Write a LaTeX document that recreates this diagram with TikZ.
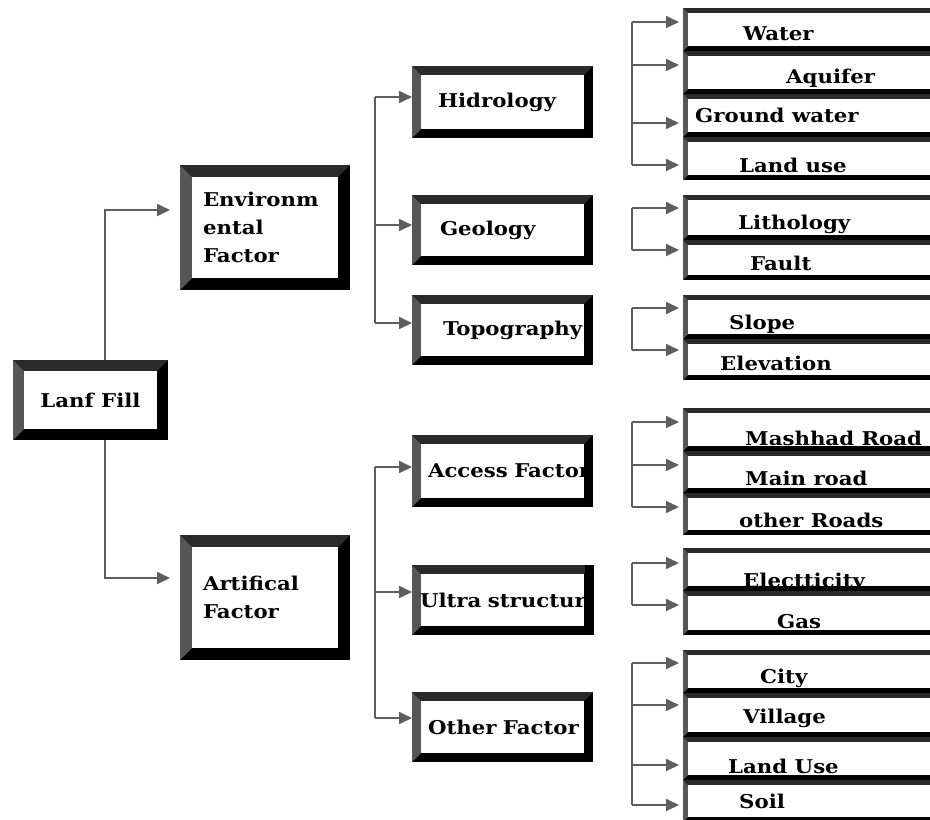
\documentclass[tikz,border=0pt]{standalone}
\usepackage{fontspec}
\setmainfont[FakeStretch=1.12]{DejaVu Serif}
\usetikzlibrary{arrows.meta}
\definecolor{topg}{HTML}{2A2A2A}
\definecolor{leftg}{HTML}{565656}
\definecolor{lineg}{HTML}{5E5E5E}
\newcommand\mytxt{\fontsize{19}{28}\selectfont\bfseries}
\tikzset{
  bevw/.initial=10,
  frame/.style={inner sep=0pt, outer sep=0pt, draw=none, font=\mytxt, align=center,
    path picture={
      \pgfmathsetmacro\bb{\pgfkeysvalueof{/tikz/bevw}}
      \coordinate (NW) at (path picture bounding box.north west);
      \coordinate (NE) at (path picture bounding box.north east);
      \coordinate (SW) at (path picture bounding box.south west);
      \fill[black] (SW) rectangle (NE);
      \fill[topg] (NW) -- (NE) -- ([shift={(-\bb pt,-\bb pt)}]NE) -- ([shift={(\bb pt,-\bb pt)}]NW) -- cycle;
      \fill[leftg] (NW) -- ([shift={(\bb pt,-\bb pt)}]NW) -- ([shift={(\bb pt,\bb pt)}]SW) -- (SW) -- cycle;
      \fill[white] ([shift={(\bb pt,\bb pt)}]SW) rectangle ([shift={(-\bb pt,-\bb pt)}]NE);
    }},
  lbl/.style={inner sep=0pt, font=\mytxt, anchor=base west},
  ln/.style={draw=lineg, line width=1.8pt},
  arr/.style={ln, -{Triangle[length=13pt,width=12pt]}},
}
% [opts]{name}{x1}{y1}{x2}{y2}{border}{text}
\newcommand\bevbox[8][]{%
  \node[frame, bevw=#7, minimum width={#5-#3}, minimum height={#6-#4}, #1] (#2) at ({(#3+#5)/2},{(#4+#6)/2}) {#8};}
% {leaf name}{bracket coordinate}{y}
\newcommand\leafarr[3]{%
  \coordinate (#1a) at (0,#3);
  \draw[arr, shorten >=4pt] (#2 |- #1a) -- (#1a -| #1.west);}
\begin{document}
\begin{tikzpicture}[x=1pt,y=-1pt]
\useasboundingbox (0,0) rectangle (930,820);
\clip (0,0) rectangle (930,820);
\fill[white] (0,0) rectangle (930,820);

% level 0 and 1
\bevbox{lanf}{13}{360}{168}{440}{11}{Lanf Fill}
\bevbox[text width=124pt, align=left]{env}{180}{165}{350}{290}{12}{Environm\\ental\\Factor}
\bevbox[text width=124pt, align=left]{art}{180}{535}{350}{660}{12}{Artifical\\Factor}

% level 2
\bevbox[text width=129pt, align=left]{hid}{412}{66}{593}{138}{9}{\mbox{Hidrology}}
\bevbox[text width=125pt, align=left]{geo}{412}{195}{593}{265}{9}{\mbox{Geology}}
\bevbox[text width=119pt, align=left]{topo}{412}{295}{593}{365}{9}{\mbox{Topography}}
\bevbox[text width=149pt, align=left]{acc}{412}{435}{593}{507}{9}{\mbox{Access Factor}}
\bevbox[text width=165pt, align=left]{ultra}{412}{565}{593}{635}{9}{\mbox{Ultra structure}}
\fill[black] ([xshift=-8pt]ultra.north east) rectangle ([xshift=30pt]ultra.south east);
\fill[white] ([xshift=0.5pt,yshift=2pt]ultra.north east) rectangle ([xshift=30pt,yshift=-2pt]ultra.south east);
\bevbox[text width=149pt, align=left]{other}{412}{692}{593}{762}{9}{\mbox{Other Factor}}

% leaves
\bevbox{water}{683}{8}{950}{51}{5}{}
\bevbox{aquifer}{683}{51}{950}{94}{5}{}
\bevbox{ground}{683}{94}{950}{137}{5}{}
\bevbox{landuse}{683}{137}{950}{180}{5}{}
\bevbox{litho}{683}{195}{950}{240}{5}{}
\bevbox{fault}{683}{240}{950}{280}{5}{}
\bevbox{slope}{683}{295}{950}{339}{5}{}
\bevbox{elev}{683}{339}{950}{380}{5}{}
\bevbox{mashhad}{683}{408}{950}{451}{5}{}
\bevbox{mainroad}{683}{451}{950}{493}{5}{}
\bevbox{others}{683}{493}{950}{535}{5}{}
\bevbox{elec}{683}{548}{950}{591}{5}{}
\bevbox{gas}{683}{591}{950}{635}{5}{}
\bevbox{city}{683}{650}{950}{693}{5}{}
\bevbox{village}{683}{693}{950}{737}{5}{}
\bevbox{landuseb}{683}{737}{950}{780}{5}{}
\bevbox{soil}{683}{780}{950}{822}{5}{}

\node[lbl] (tWater) at (743,40) {Water};
\node[lbl] (tAquifer) at (786,83) {Aquifer};
\node[lbl] (tGround) at (695,122) {Ground water};
\node[lbl] (tLanduse) at (739,172) {Land use};
\node[lbl] (tLitho) at (738,229) {Lithology};
\node[lbl] (tFault) at (750,270) {Fault};
\node[lbl] (tSlope) at (729,329) {Slope};
\node[lbl] (tElev) at (720,370) {Elevation};
\node[lbl] (tMashhad) at (745,445) {Mashhad Road};
\node[lbl] (tMain) at (745,485) {Main road};
\node[lbl] (tOthers) at (739,527) {other Roads};
\node[lbl] (tElec) at (743,587) {Electticity};
\node[lbl] (tGas) at (777,628) {Gas};
\node[lbl] (tCity) at (760,683) {City};
\node[lbl] (tVillage) at (743,723) {Village};
\node[lbl] (tLanduseb) at (728,773) {Land Use};
\node[lbl] (tSoil) at (739,808) {Soil};

% connectors from Lanf Fill
\coordinate (lx) at (105,0);
\coordinate (enva) at (0,210);
\coordinate (arta) at (0,578);
\draw[arr, shorten >=10pt] (lanf.north -| lx) |- (enva -| env.west);
\draw[arr, shorten >=10pt] (lanf.south -| lx) |- (arta -| art.west);

% level-2 brackets
\coordinate (mx) at (375,0);
\coordinate (hida) at (0,97);
\coordinate (geoa) at (0,225);
\coordinate (topoa) at (0,323);
\draw[ln] (mx |- hida) -- (mx |- topoa);
\draw[arr] (mx |- hida) -- (hida -| hid.west);
\draw[arr] (mx |- geoa) -- (geoa -| geo.west);
\draw[arr] (mx |- topoa) -- (topoa -| topo.west);
\coordinate (acca) at (0,467);
\coordinate (ultraa) at (0,592);
\coordinate (othera) at (0,718);
\draw[ln] (mx |- acca) -- (mx |- othera);
\draw[arr] (mx |- acca) -- (acca -| acc.west);
\draw[arr] (mx |- ultraa) -- (ultraa -| ultra.west);
\draw[arr] (mx |- othera) -- (othera -| other.west);

% leaf brackets
\coordinate (bx) at (632,0);
\leafarr{water}{bx}{22}
\leafarr{aquifer}{bx}{65}
\leafarr{ground}{bx}{123}
\leafarr{landuse}{bx}{165}
\draw[ln] (bx |- watera) -- (bx |- landusea);
\leafarr{litho}{bx}{208}
\leafarr{fault}{bx}{250}
\draw[ln] (bx |- lithoa) -- (bx |- faulta);
\leafarr{slope}{bx}{308}
\leafarr{elev}{bx}{350}
\draw[ln] (bx |- slopea) -- (bx |- eleva);
\leafarr{mashhad}{bx}{422}
\leafarr{mainroad}{bx}{465}
\leafarr{others}{bx}{507}
\draw[ln] (bx |- mashhada) -- (bx |- othersa);
\leafarr{elec}{bx}{563}
\leafarr{gas}{bx}{605}
\draw[ln] (bx |- eleca) -- (bx |- gasa);
\leafarr{city}{bx}{663}
\leafarr{village}{bx}{705}
\leafarr{landuseb}{bx}{765}
\leafarr{soil}{bx}{805}
\draw[ln] (bx |- citya) -- (bx |- soila);
\end{tikzpicture}
\end{document}
